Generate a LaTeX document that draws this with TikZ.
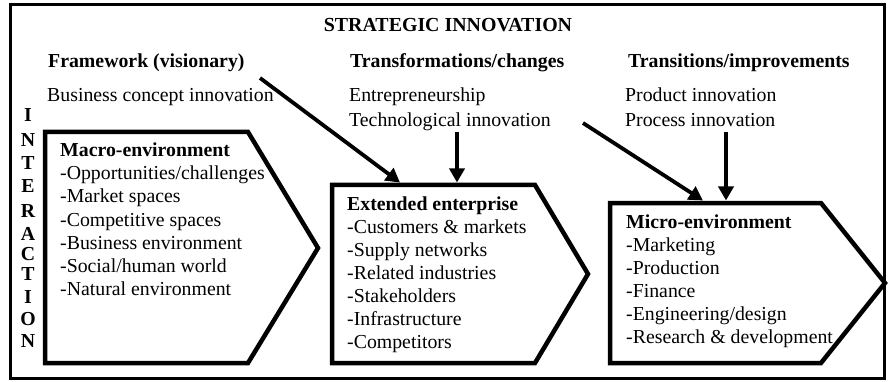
\documentclass[tikz,border=0pt]{standalone}
\usepackage{fontspec}
\setmainfont{Liberation Serif}
\usetikzlibrary{arrows.meta}
\begin{document}
\begin{tikzpicture}[x=1pt,y=-1pt,
  txt/.style={anchor=base west, inner sep=0pt, font=\fontsize{19.8}{23}\selectfont},
  btxt/.style={anchor=base west, inner sep=0pt, font=\fontsize{19.8}{23}\selectfont\bfseries},
  vlet/.style={anchor=base, inner sep=0pt, font=\fontsize{19.8}{23}\selectfont\bfseries},
  frame/.style={line width=3pt},
  pent/.style={line width=4.5pt, line join=miter},
  arr/.style={line width=3.8pt, -{Triangle[length=14pt,width=15pt]}}]
\useasboundingbox (0,0) rectangle (888,382);
\draw[frame] (10,5) rectangle (884,378);

% title and column headings
\node[anchor=base, inner sep=0pt, font=\fontsize{19.9}{23}\selectfont\bfseries] (title) at (448,32) {STRATEGIC INNOVATION};
\node[btxt] (h1) at (48,68) {Framework (visionary)};
\node[btxt] (h2) at (350,68) {Transformations/changes};
\node[btxt] (h3) at (628,68) {Transitions/improvements};

\node[txt] (s1) at (47,102) {Business concept innovation};
\node[txt] (s2a) at (349,102) {Entrepreneurship};
\node[txt] (s2b) at (349,127) {Technological innovation};
\node[txt] (s3a) at (625,102) {Product innovation};
\node[txt] (s3b) at (625,127) {Process innovation};

% INTERACTION
\node[vlet] (v1) at (28,122) {I};
\node[vlet] (v2) at (28,147) {N};
\node[vlet] (v3) at (28,170) {T};
\node[vlet] (v4) at (28,193) {E};
\node[vlet] (v5) at (28,217) {R};
\node[vlet] (v6) at (28,240) {A};
\node[vlet] (v7) at (28,260) {C};
\node[vlet] (v8) at (28,280) {T};
\node[vlet] (v9) at (28,303) {I};
\node[vlet] (v10) at (28,325) {O};
\node[vlet] (v11) at (28,347) {N};

% pentagons
\draw[pent] (45,132) -- (248,132) -- (318,248) -- (248,363) -- (45,363) -- cycle;
\draw[pent] (332,185) -- (535,185) -- (588,274) -- (535,363) -- (332,363) -- cycle;
\draw[pent] (610,203) -- (821,203) -- (885,283) -- (821,363) -- (610,363) -- cycle;

\coordinate (exttopA) at (400,182.5);
\coordinate (exttopB) at (457,182.5);
\coordinate (mictopA) at (703,200.5);
\coordinate (mictopB) at (726,200.5);
\coordinate (a1) at (260,78);
\coordinate (a2) at (457,132);
\coordinate (a3) at (583,123);
\coordinate (a4) at (726,132);

\draw[arr] (a1) -- (exttopA);
\draw[arr] (a2) -- (exttopB);
\draw[arr] (a3) -- (mictopA);
\draw[arr] (a4) -- (mictopB);

% macro
\node[btxt] (m0) at (60,157) {Macro-environment};
\node[txt] (m1) at (60,180) {-Opportunities/challenges};
\node[txt] (m2) at (60,203) {-Market spaces};
\node[txt] (m3) at (60,226) {-Competitive spaces};
\node[txt] (m4) at (60,249) {-Business environment};
\node[txt] (m5) at (60,272) {-Social/human world};
\node[txt] (m6) at (60,295) {-Natural environment};

% extended
\node[btxt] (e0) at (347,210) {Extended enterprise};
\node[txt] (e1) at (347,233) {-Customers \& markets};
\node[txt] (e2) at (347,256) {-Supply networks};
\node[txt] (e3) at (347,279) {-Related industries};
\node[txt] (e4) at (347,302) {-Stakeholders};
\node[txt] (e5) at (347,325) {-Infrastructure};
\node[txt] (e6) at (347,348) {-Competitors};

% micro
\node[btxt] (c0) at (626,228) {Micro-environment};
\node[txt] (c1) at (626,251) {-Marketing};
\node[txt] (c2) at (626,274) {-Production};
\node[txt] (c3) at (626,297) {-Finance};
\node[txt] (c4) at (626,320) {-Engineering/design};
\node[txt] (c5) at (626,343) {-Research \& development};
\end{tikzpicture}
\end{document}
